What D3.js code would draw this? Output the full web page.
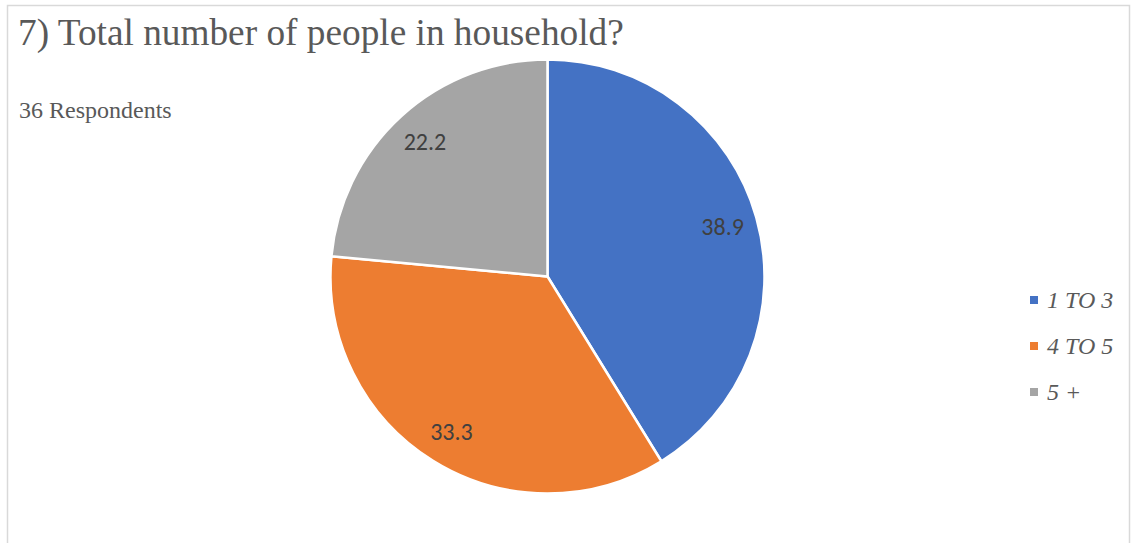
<!DOCTYPE html>
<html>
<head>
<meta charset="utf-8">
<script src="https://cdn.jsdelivr.net/npm/d3@7"></script>
<style>
  html, body { margin: 0; padding: 0; background: #fff; }
  svg { display: block; }
</style>
</head>
<body>
<svg id="chart" width="1131" height="543"></svg>
<script>
// Household size breakdown (percent of respondents)
const categories = ["1 TO 3", "4 TO 5", "5 +"];
const values = [38.9, 33.3, 22.2];
const colors = ["#4472C4", "#ED7D31", "#A5A5A5"];
const titleText = "7) Total number of people in household?";
const subtitleText = "36 Respondents";

const svg = d3.select("#chart");
const serif = "'Liberation Serif', 'Times New Roman', serif";

// chart frame
svg.append("rect")
  .attr("x", 7.5).attr("y", 5.5)
  .attr("width", 1122).attr("height", 560)
  .attr("fill", "#fff")
  .attr("stroke", "#D9D9D9")
  .attr("stroke-width", 1.5);

svg.append("text")
  .attr("x", 18).attr("y", 45)
  .attr("font-family", serif)
  .attr("font-size", 37.3)
  .attr("fill", "#595959")
  .text(titleText);

svg.append("text")
  .attr("x", 19).attr("y", 118)
  .attr("font-family", serif)
  .attr("font-size", 24)
  .attr("fill", "#595959")
  .text(subtitleText);

const cx = 547.5, cy = 276.5, r = 217;
const color = d3.scaleOrdinal().domain(categories).range(colors);

const pie = d3.pie().sort(null).value(d => d.value);
const data = categories.map((c, i) => ({ name: c, value: values[i] }));
const arcs = pie(data);
const arc = d3.arc().innerRadius(0).outerRadius(r);
const labelArc = d3.arc().innerRadius(182).outerRadius(182);

const g = svg.append("g").attr("transform", `translate(${cx},${cy})`);
g.selectAll("path")
  .data(arcs)
  .join("path")
  .attr("d", arc)
  .attr("fill", d => color(d.data.name))
  .attr("stroke", "#fff")
  .attr("stroke-width", 2.5)
  .attr("stroke-linejoin", "round");

g.selectAll("text.val")
  .data(arcs)
  .join("text")
  .attr("class", "val")
  .attr("transform", d => `translate(${labelArc.centroid(d)})`)
  .attr("text-anchor", "middle")
  .attr("dominant-baseline", "central")
  .attr("font-family", "Carlito, Calibri, Lato, sans-serif")
  .attr("font-size", 24)
  .attr("fill", "#404040")
  .text(d => d.data.value.toFixed(1));

// legend
const legend = svg.append("g").attr("transform", "translate(1030,300)");
const items = legend.selectAll("g")
  .data(categories)
  .join("g")
  .attr("transform", (d, i) => `translate(0,${i * 46})`);
items.append("rect")
  .attr("x", 0).attr("y", -4)
  .attr("width", 8).attr("height", 8)
  .attr("fill", d => color(d));
items.append("text")
  .attr("x", 17).attr("y", 0)
  .attr("dominant-baseline", "central")
  .attr("font-family", serif)
  .attr("font-style", "italic")
  .attr("font-size", 24)
  .attr("fill", "#595959")
  .text(d => d);
</script>
</body>
</html>
